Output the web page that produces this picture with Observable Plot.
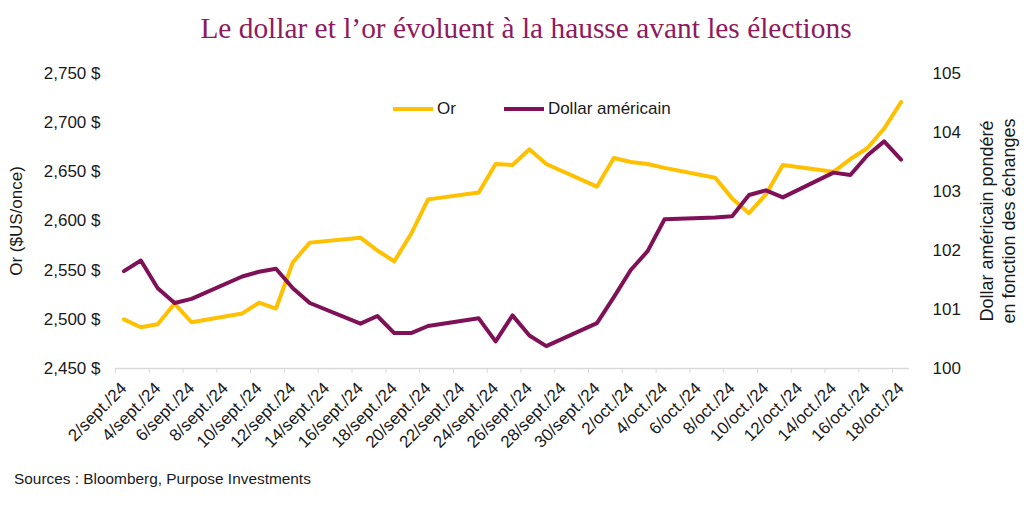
<!DOCTYPE html>
<html>
<head>
<meta charset="utf-8">
<script src="https://cdn.jsdelivr.net/npm/d3@7"></script>
<script src="https://cdn.jsdelivr.net/npm/@observablehq/plot@0.6"></script>
<style>
  body { margin: 0; background: #fff; font-family: "Liberation Sans", Arial, sans-serif; }
  #wrap { position: relative; width: 1024px; height: 510px; overflow: hidden; }
  #title { position: absolute; top: 12px; left: 14px; width: 1024px; text-align: center;
           font-family: "Liberation Serif", "Times New Roman", serif; font-size: 29.4px; color: #8E1B5E; }
  #chart { position: absolute; top: 50px; left: 0; }
  #legend { position: absolute; top: 99px; left: 393px; font-size: 17px; color: #1a1a1a; display: flex; align-items: center; }
  .sw { display: inline-block; width: 40px; height: 4px; margin-right: 4px; }
  #caption { position: absolute; left: 14px; top: 470px; font-size: 15.4px; color: #1a1a1a; }
</style>
</head>
<body>
<div id="wrap">
  <div id="title">Le dollar et l’or évoluent à la hausse avant les élections</div>
  <div id="chart"></div>
  <div id="legend"></div>
  <div id="caption">Sources : Bloomberg, Purpose Investments</div>
</div>
<script>
// ---- Data ----
const dates = [
  "2024-09-02","2024-09-03","2024-09-04","2024-09-05","2024-09-06",
  "2024-09-09","2024-09-10","2024-09-11","2024-09-12","2024-09-13",
  "2024-09-16","2024-09-17","2024-09-18","2024-09-19","2024-09-20",
  "2024-09-23","2024-09-24","2024-09-25","2024-09-26","2024-09-27",
  "2024-09-30","2024-10-01","2024-10-02","2024-10-03","2024-10-04",
  "2024-10-07","2024-10-08","2024-10-09","2024-10-10","2024-10-11",
  "2024-10-14","2024-10-15","2024-10-16","2024-10-17","2024-10-18"
];
const gold = [
  2500, 2492, 2495, 2516, 2497,
  2506, 2517, 2511, 2558, 2578,
  2583, 2570, 2559, 2587, 2622,
  2629, 2658, 2657, 2673, 2658,
  2635, 2664, 2660, 2658, 2654,
  2644, 2623, 2608, 2627, 2657,
  2650, 2663, 2674, 2694, 2721
];
const dollar = [
  101.65, 101.83, 101.36, 101.11, 101.18,
  101.56, 101.64, 101.69, 101.36, 101.11,
  100.76, 100.89, 100.60, 100.60, 100.72,
  100.85, 100.46, 100.90, 100.56, 100.38,
  100.77, 101.21, 101.67, 101.99, 102.53,
  102.56, 102.58, 102.94, 103.02, 102.90,
  103.32, 103.28, 103.61, 103.85, 103.54
];
const tickDates = [
  "2024-09-02","2024-09-04","2024-09-06","2024-09-08","2024-09-10","2024-09-12",
  "2024-09-14","2024-09-16","2024-09-18","2024-09-20","2024-09-22","2024-09-24",
  "2024-09-26","2024-09-28","2024-09-30","2024-10-02","2024-10-04","2024-10-06",
  "2024-10-08","2024-10-10","2024-10-12","2024-10-14","2024-10-16","2024-10-18"
];
const tickLabels = [
  "2/sept./24","4/sept./24","6/sept./24","8/sept./24","10/sept./24","12/sept./24",
  "14/sept./24","16/sept./24","18/sept./24","20/sept./24","22/sept./24","24/sept./24",
  "26/sept./24","28/sept./24","30/sept./24","2/oct./24","4/oct./24","6/oct./24",
  "8/oct./24","10/oct./24","12/oct./24","14/oct./24","16/oct./24","18/oct./24"
];
const goldTicks = [2450, 2500, 2550, 2600, 2650, 2700, 2750];
const dollarTicks = [100, 101, 102, 103, 104, 105];
const seriesNames = ["Or", "Dollar américain"];
const colors = ["#FFC000", "#7F1257"];
const leftTitle = "Or ($US/once)";
const rightTitle = "Dollar américain pondéré\nen fonction des échanges";

// ---- Build ----
const DAY = 864e5;
const parse = s => new Date(s + "T00:00:00Z");
const gMin = 2450, gMax = 2750, dMin = 100, dMax = 105;
const toGoldScale = v => gMin + (v - dMin) * (gMax - gMin) / (dMax - dMin);
const fromGoldScale = g => dMin + (g - gMin) * (dMax - dMin) / (gMax - gMin);

const goldData = dates.map((d, i) => ({date: parse(d), value: gold[i]}));
const dollarData = dates.map((d, i) => ({date: parse(d), value: toGoldScale(dollar[i])}));
const labelDates = tickDates.map(parse);
const labelMap = new Map(labelDates.map((d, i) => [+d, tickLabels[i]]));
const boundaryTicks = labelDates.map(d => new Date(+d - DAY / 2));
const xDomain = [new Date(+parse(dates[0]) - DAY / 2), new Date(+parse(dates[dates.length - 1]) + DAY / 2)];

const chart = Plot.plot({
  width: 1024,
  height: 410,
  marginLeft: 115,
  marginRight: 115,
  marginTop: 23,
  marginBottom: 92,
  style: {fontFamily: "'Liberation Sans', Arial, sans-serif", fontSize: "17px", color: "#1a1a1a", background: "transparent"},
  x: {type: "utc", domain: xDomain},
  y: {domain: [gMin, gMax]},
  marks: [
    Plot.ruleY([gMin], {stroke: "#d9d9d9", strokeWidth: 1.3}),
    Plot.axisX(boundaryTicks, {tickSize: 5, stroke: "#d9d9d9", tickFormat: () => "", label: null}),
    Plot.axisX(labelDates, {tickSize: 0, tickPadding: 17, tickRotate: -45, fontSize: 17,
      tickFormat: d => labelMap.get(+d), label: null}),
    Plot.axisY(goldTicks, {anchor: "left", tickSize: 0, tickPadding: 15,
      tickFormat: d => d3.format(",")(d) + " $", label: null}),
    Plot.axisY(dollarTicks.map(toGoldScale), {anchor: "right", tickSize: 0, tickPadding: 23,
      tickFormat: d => String(Math.round(fromGoldScale(d))), label: null}),
    Plot.text([leftTitle], {frameAnchor: "left", textAnchor: "middle", dx: -99, rotate: -90, fontSize: 17, fill: "#1a1a1a"}),
    Plot.text([rightTitle], {frameAnchor: "right", textAnchor: "middle", dx: 87, rotate: -90, fontSize: 18, lineHeight: 1.22, fill: "#1a1a1a"}),
    Plot.line(goldData, {x: "date", y: "value", stroke: colors[0], strokeWidth: 4, strokeLinejoin: "round"}),
    Plot.line(dollarData, {x: "date", y: "value", stroke: colors[1], strokeWidth: 4, strokeLinejoin: "round"})
  ]
});
document.getElementById("chart").appendChild(chart);

const legend = document.getElementById("legend");
seriesNames.forEach((n, i) => {
  const item = document.createElement("span");
  item.style.display = "inline-flex";
  item.style.alignItems = "center";
  item.style.marginRight = i === 0 ? "48px" : "0";
  const sw = document.createElement("span");
  sw.className = "sw";
  sw.style.background = colors[i];
  item.appendChild(sw);
  item.appendChild(document.createTextNode(n));
  legend.appendChild(item);
});
</script>
</body>
</html>
